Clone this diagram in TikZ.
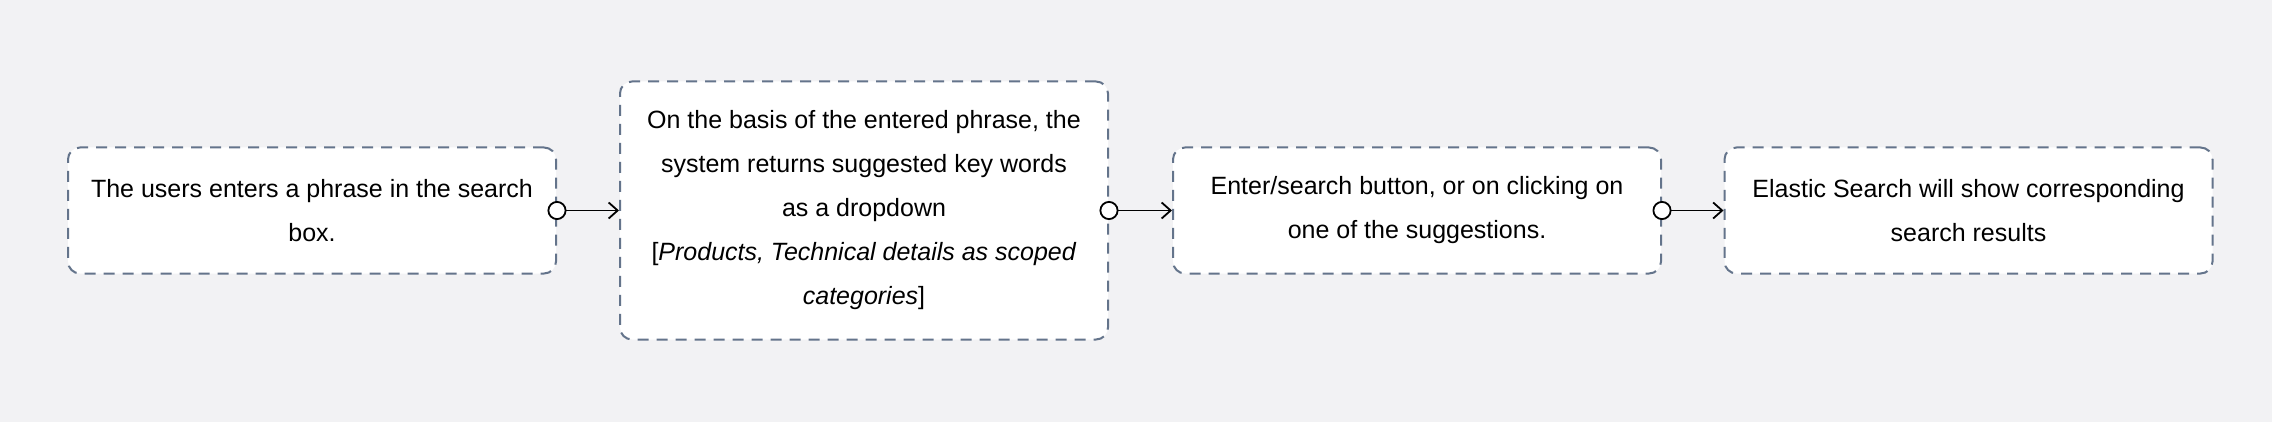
\documentclass[tikz,border=0pt]{standalone}
\usepackage{fontspec}
\setmainfont{Liberation Sans}
\usetikzlibrary{arrows.meta}
\definecolor{bg}{HTML}{F2F2F4}
\definecolor{bordc}{HTML}{64748B}
\begin{document}
\begin{tikzpicture}[x=1pt,y=-1pt,
  stepbox/.style={draw=bordc, line width=2pt, dash pattern=on 11pt off 8pt, fill=white, rounded corners=12pt, minimum width=488pt, align=center, inner sep=0pt, font=\fontsize{25}{44}\selectfont},
  conn/.style={line width=1.8pt, {Circle[open,fill=white,length=19pt,width=19pt]}-{Straight Barb[length=9pt,width=16pt]}, shorten <=-9.5pt}
]
\fill[bg] (0,0) rectangle (2272,422);
\useasboundingbox (0,0) rectangle (2272,422);
\node[stepbox, minimum height=126pt] (b1) at (312,210.5) {The users enters a phrase in the search\\box.};
\node[stepbox, minimum height=258pt] (b2) at (864,210.5) {On the basis of the entered phrase, the\\system returns suggested key words\\as a dropdown\\{[}\textit{Products, Technical details as scoped}\\\textit{categories}{]}};
\node[stepbox, minimum height=126pt] (b3) at (1417,210.5) {Enter/search button, or on clicking on\\one of the suggestions.};
\node[stepbox, minimum height=126pt] (b4) at (1968.5,210.5) {Elastic Search will show corresponding\\search results};
\draw[conn] (b1.east) -- (b2.west);
\draw[conn] (b2.east) -- (b3.west);
\draw[conn] (b3.east) -- (b4.west);
\end{tikzpicture}
\end{document}
